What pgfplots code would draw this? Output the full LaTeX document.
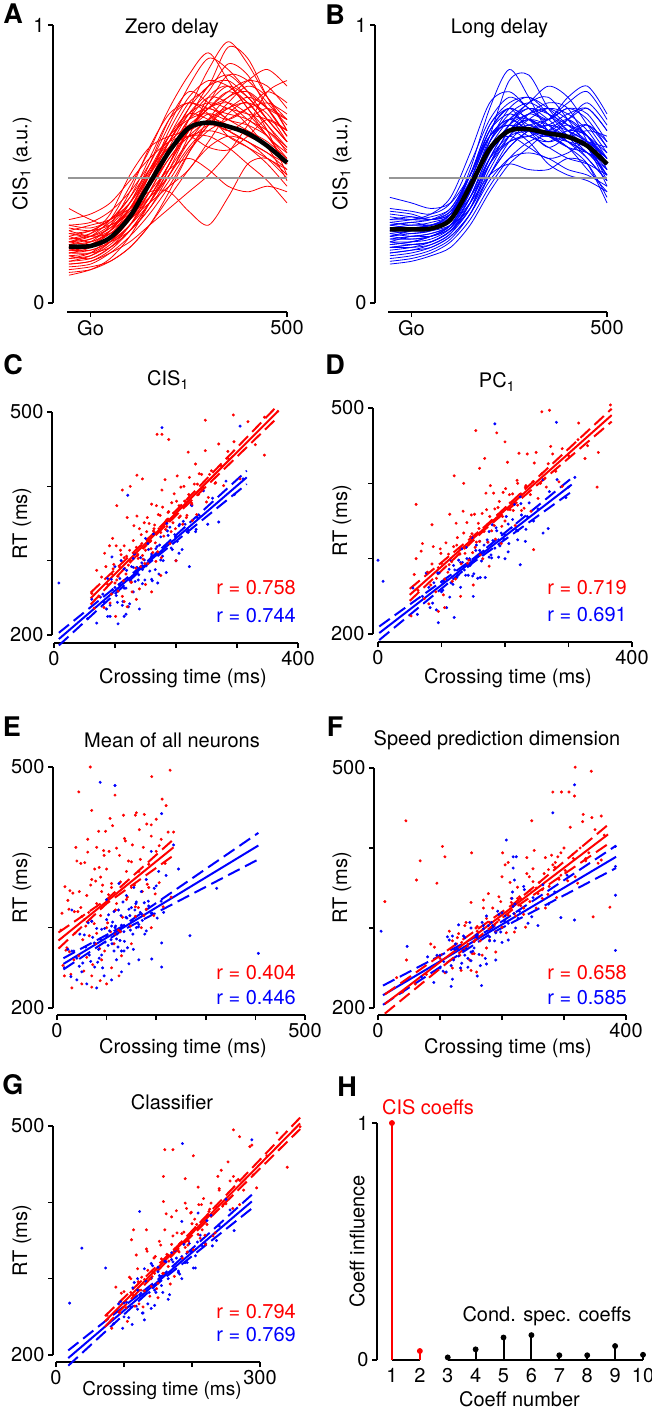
\documentclass[border=0pt]{standalone}
\usepackage{fontspec}
\setmainfont{TeX Gyre Heros}
\usepackage{pgfplots}
\pgfplotsset{compat=1.18}
\definecolor{cr}{RGB}{255,0,0}
\definecolor{cb}{RGB}{0,0,255}
\definecolor{cg}{RGB}{150,150,150}
\newcommand{\fs}{\fontsize{20}{24}\selectfont}
\pgfplotsset{
  base/.style={scale only axis, clip=false, anchor=south west,
    axis lines=left,
    axis line style={-, line width=1.5pt, black},
    tick align=outside, major tick length=5pt,
    tick style={line width=1.5pt, black},
    font=\fs, tick label style={font=\fs},
    /pgf/number format/assume math mode=true,
    every axis title/.style={at={(axis description cs:0.5,1)}, anchor=center, font=\fs},
    every axis x label/.style={at={(axis description cs:0.5,0)}, anchor=center, font=\fs},
    every axis y label/.style={at={(axis description cs:0,0.5)}, anchor=center, font=\fs},
  },
  rc/.style={cr, line width=0.8pt, smooth},
  bc/.style={cb, line width=0.8pt, smooth},
  rdot/.style={color=cr, only marks, mark=*, mark size=1.3pt, mark options={draw=none, fill=cr}},
  bdot/.style={color=cb, only marks, mark=*, mark size=1.3pt, mark options={draw=none, fill=cb}},
  rfit/.style={cr, line width=2pt},
  bfit/.style={cb, line width=2pt},
  rci/.style={cr, line width=2pt, dash pattern=on 13pt off 6pt},
  bci/.style={cb, line width=2pt, dash pattern=on 13pt off 6pt},
}
\begin{document}
\begin{tikzpicture}
\useasboundingbox (0pt,0pt) rectangle (652pt,-1410pt);
% ---------------- A ----------------
\begin{axis}[base, at={(67pt,-303pt)}, width=220pt, height=278pt,
 xmin=-60, xmax=500, ymin=0, ymax=1,
 axis x line shift=9pt, axis y line shift=14pt,
 xtick={0,500}, xticklabels={Go,500}, ytick={0,1}, yticklabels={0,1},
 title={Zero delay}, title style={xshift=-5pt, yshift=-3pt},
 ylabel={CIS\textsubscript{1} (a.u.)}, ylabel style={xshift=-45pt, rotate=90}]
\addplot[rc] coordinates {(-55,.22)(0,.24)(50,.30)(100,.42)(150,.55)(200,.70)(250,.82)(300,.90)(350,.80)(400,.70)(450,.62)(500,.55)};
\addplot[rc] coordinates {(-55,.18)(0,.19)(50,.22)(100,.28)(150,.38)(200,.50)(250,.62)(300,.72)(350,.78)(400,.74)(450,.66)(500,.58)};
\addplot[rc] coordinates {(-55,.25)(0,.26)(50,.30)(100,.36)(150,.47)(200,.60)(250,.72)(300,.78)(350,.92)(400,.88)(450,.74)(500,.62)};
\addplot[rc] coordinates {(-55,.15)(0,.16)(50,.20)(100,.26)(150,.34)(200,.44)(250,.55)(300,.62)(350,.66)(400,.70)(450,.72)(500,.68)};
\addplot[rc] coordinates {(-55,.30)(0,.32)(50,.36)(100,.44)(150,.52)(200,.58)(250,.60)(300,.56)(350,.55)(400,.60)(450,.66)(500,.62)};
\addplot[rc] coordinates {(-55,.12)(0,.13)(50,.15)(100,.20)(150,.28)(200,.38)(250,.48)(300,.56)(350,.60)(400,.58)(450,.52)(500,.45)};
\addplot[rc] coordinates {(-55,.20)(0,.20)(50,.24)(100,.32)(150,.46)(200,.62)(250,.74)(300,.80)(350,.78)(400,.72)(450,.64)(500,.54)};
\addplot[rc] coordinates {(-55,.34)(0,.30)(50,.28)(100,.34)(150,.48)(200,.60)(250,.66)(300,.68)(350,.62)(400,.58)(450,.54)(500,.48)};
\addplot[rc] coordinates {(-55,.17)(0,.18)(50,.22)(100,.30)(150,.40)(200,.48)(250,.52)(300,.48)(350,.42)(400,.40)(450,.42)(500,.40)};
\addplot[rc] coordinates {(-55,.24)(0,.22)(50,.26)(100,.34)(150,.44)(200,.58)(250,.70)(300,.84)(350,.94)(400,.86)(450,.74)(500,.66)};
\addplot[rc] coordinates {(-55,.10)(0,.12)(50,.16)(100,.24)(150,.36)(200,.50)(250,.62)(300,.70)(350,.72)(400,.68)(450,.60)(500,.50)};
\addplot[rc] coordinates {(-55,.22)(0,.25)(50,.32)(100,.46)(150,.56)(200,.60)(250,.62)(300,.66)(350,.70)(400,.74)(450,.70)(500,.60)};
\addplot[rc] coordinates {(-55,.19)(0,.20)(50,.24)(100,.30)(150,.36)(200,.42)(250,.48)(300,.58)(350,.68)(400,.72)(450,.62)(500,.46)};
\addplot[rc] coordinates {(-55,.26)(0,.28)(50,.30)(100,.34)(150,.40)(200,.40)(250,.33)(300,.28)(350,.38)(400,.50)(450,.52)(500,.46)};
\addplot[rc] coordinates {(-55,.14)(0,.15)(50,.18)(100,.22)(150,.28)(200,.34)(250,.40)(300,.46)(350,.54)(400,.64)(450,.76)(500,.80)};
\addplot[rc] coordinates {(-55,.28)(0,.29)(50,.33)(100,.40)(150,.50)(200,.64)(250,.78)(300,.88)(350,.84)(400,.76)(450,.66)(500,.58)};
\addplot[rc] coordinates {(-55,.16)(0,.18)(50,.24)(100,.34)(150,.46)(200,.56)(250,.60)(300,.62)(350,.60)(400,.56)(450,.50)(500,.42)};
\addplot[rc] coordinates {(-55,.21)(0,.22)(50,.25)(100,.30)(150,.38)(200,.50)(250,.66)(300,.78)(350,.82)(400,.76)(450,.70)(500,.66)};
\addplot[rc] coordinates {(-55,.23)(0,.24)(50,.28)(100,.36)(150,.50)(200,.66)(250,.76)(300,.72)(350,.66)(400,.64)(450,.60)(500,.52)};
\addplot[rc] coordinates {(-55,.18)(0,.18)(50,.20)(100,.26)(150,.36)(200,.46)(250,.56)(300,.64)(350,.72)(400,.78)(450,.74)(500,.62)};
\addplot[rc] coordinates {(-55,.20)(0,.22)(50,.28)(100,.40)(150,.56)(200,.68)(250,.72)(300,.70)(350,.68)(400,.66)(450,.60)(500,.50)};
\addplot[rc] coordinates {(-55,.13)(0,.14)(50,.18)(100,.24)(150,.32)(200,.42)(250,.54)(300,.64)(350,.70)(400,.72)(450,.68)(500,.58)};
\addplot[rc] coordinates {(-55,.27)(0,.26)(50,.28)(100,.32)(150,.38)(200,.46)(250,.60)(300,.74)(350,.78)(400,.70)(450,.60)(500,.54)};
\addplot[rc] coordinates {(-55,.22)(0,.21)(50,.22)(100,.26)(150,.34)(200,.46)(250,.58)(300,.66)(350,.64)(400,.60)(450,.56)(500,.44)};
\addplot[rc] coordinates {(-55,.15)(0,.17)(50,.22)(100,.30)(150,.42)(200,.56)(250,.68)(300,.76)(350,.86)(400,.82)(450,.70)(500,.60)};
\addplot[rc] coordinates {(-55,.24)(0,.26)(50,.30)(100,.38)(150,.48)(200,.56)(250,.60)(300,.60)(350,.56)(400,.50)(450,.44)(500,.36)};
\addplot[rc] coordinates {(-55,.19)(0,.19)(50,.22)(100,.28)(150,.36)(200,.48)(250,.62)(300,.70)(350,.74)(400,.80)(450,.84)(500,.78)};
\addplot[rc] coordinates {(-55,.21)(0,.23)(50,.26)(100,.32)(150,.42)(200,.54)(250,.66)(300,.74)(350,.72)(400,.66)(450,.62)(500,.56)};
\addplot[rc] coordinates {(-55,.17)(0,.16)(50,.20)(100,.28)(150,.40)(200,.52)(250,.60)(300,.66)(350,.70)(400,.64)(450,.56)(500,.50)};
\addplot[rc] coordinates {(-55,.25)(0,.24)(50,.27)(100,.33)(150,.44)(200,.54)(250,.62)(300,.68)(350,.66)(400,.70)(450,.76)(500,.72)};
\addplot[rc] coordinates {(-55,.16)(0,.17)(50,.21)(100,.28)(150,.38)(200,.50)(250,.62)(300,.70)(350,.76)(400,.72)(450,.64)(500,.56)};
\addplot[rc] coordinates {(-55,.23)(0,.25)(50,.29)(100,.36)(150,.46)(200,.58)(250,.68)(300,.72)(350,.70)(400,.68)(450,.66)(500,.62)};
\addplot[rc] coordinates {(-55,.11)(0,.12)(50,.15)(100,.20)(150,.28)(200,.40)(250,.54)(300,.66)(350,.74)(400,.76)(450,.70)(500,.60)};
\addplot[rc] coordinates {(-55,.28)(0,.27)(50,.30)(100,.38)(150,.52)(200,.66)(250,.72)(300,.68)(350,.60)(400,.56)(450,.52)(500,.48)};
\addplot[rc] coordinates {(-55,.20)(0,.21)(50,.25)(100,.32)(150,.44)(200,.58)(250,.70)(300,.78)(350,.80)(400,.74)(450,.66)(500,.58)};
\addplot[rc] coordinates {(-55,.18)(0,.20)(50,.26)(100,.36)(150,.48)(200,.58)(250,.64)(300,.70)(350,.76)(400,.80)(450,.78)(500,.70)};
\addplot[rc] coordinates {(-55,.26)(0,.24)(50,.25)(100,.30)(150,.40)(200,.54)(250,.66)(300,.70)(350,.66)(400,.62)(450,.58)(500,.52)};
\addplot[rc] coordinates {(-55,.14)(0,.15)(50,.19)(100,.26)(150,.36)(200,.48)(250,.58)(300,.64)(350,.62)(400,.58)(450,.54)(500,.50)};
\addplot[rc] coordinates {(-55,.22)(0,.23)(50,.27)(100,.34)(150,.42)(200,.52)(250,.62)(300,.72)(350,.82)(400,.80)(450,.72)(500,.64)};
\addplot[rc] coordinates {(-55,.19)(0,.21)(50,.26)(100,.34)(150,.46)(200,.60)(250,.68)(300,.66)(350,.62)(400,.66)(450,.70)(500,.66)};
\addplot[cg, line width=2pt] coordinates {(-58,.45)(500,.45)};
\addplot[black, line width=4.5pt, smooth] coordinates {(-55,.203)(0,.205)(50,.235)(100,.31)(150,.43)(200,.545)(250,.63)(300,.649)(350,.635)(400,.61)(450,.565)(500,.505)};
\end{axis}
% ---------------- B ----------------
\begin{axis}[base, at={(388pt,-303pt)}, width=219pt, height=278pt,
 xmin=-60, xmax=500, ymin=0, ymax=1,
 axis x line shift=9pt, axis y line shift=13pt,
 xtick={0,500}, xticklabels={Go,500}, ytick={0,1}, yticklabels={0,1},
 title={Long delay}, title style={xshift=2pt, yshift=-3pt},
 ylabel={CIS\textsubscript{1} (a.u.)}, ylabel style={xshift=-46pt, rotate=90}]
\addplot[bc] coordinates {(-55,.26)(0,.27)(50,.28)(100,.32)(150,.48)(200,.70)(250,.84)(300,.74)(350,.62)(400,.64)(450,.60)(500,.50)};
\addplot[bc] coordinates {(-55,.20)(0,.21)(50,.22)(100,.26)(150,.36)(200,.50)(250,.60)(300,.66)(350,.70)(400,.68)(450,.62)(500,.52)};
\addplot[bc] coordinates {(-55,.30)(0,.30)(50,.31)(100,.34)(150,.46)(200,.62)(250,.68)(300,.64)(350,.62)(400,.66)(450,.70)(500,.62)};
\addplot[bc] coordinates {(-55,.15)(0,.16)(50,.18)(100,.22)(150,.30)(200,.42)(250,.52)(300,.58)(350,.60)(400,.56)(450,.48)(500,.40)};
\addplot[bc] coordinates {(-55,.34)(0,.33)(50,.32)(100,.36)(150,.50)(200,.66)(250,.74)(300,.70)(350,.64)(400,.58)(450,.52)(500,.44)};
\addplot[bc] coordinates {(-55,.22)(0,.24)(50,.24)(100,.27)(150,.36)(200,.52)(250,.64)(300,.70)(350,.66)(400,.60)(450,.58)(500,.56)};
\addplot[bc] coordinates {(-55,.28)(0,.27)(50,.27)(100,.30)(150,.40)(200,.56)(250,.66)(300,.72)(350,.78)(400,.74)(450,.64)(500,.54)};
\addplot[bc] coordinates {(-55,.18)(0,.19)(50,.20)(100,.24)(150,.32)(200,.44)(250,.52)(300,.54)(350,.52)(400,.48)(450,.46)(500,.42)};
\addplot[bc] coordinates {(-55,.38)(0,.36)(50,.34)(100,.36)(150,.46)(200,.60)(250,.64)(300,.60)(350,.58)(400,.62)(450,.60)(500,.50)};
\addplot[bc] coordinates {(-55,.24)(0,.25)(50,.26)(100,.30)(150,.42)(200,.60)(250,.80)(300,.82)(350,.70)(400,.62)(450,.56)(500,.48)};
\addplot[bc] coordinates {(-55,.27)(0,.26)(50,.26)(100,.28)(150,.34)(200,.46)(250,.56)(300,.62)(350,.66)(400,.72)(450,.76)(500,.66)};
\addplot[bc] coordinates {(-55,.21)(0,.22)(50,.24)(100,.28)(150,.40)(200,.56)(250,.62)(300,.58)(350,.50)(400,.46)(450,.44)(500,.40)};
\addplot[bc] coordinates {(-55,.32)(0,.31)(50,.30)(100,.32)(150,.42)(200,.58)(250,.66)(300,.66)(350,.62)(400,.58)(450,.54)(500,.50)};
\addplot[bc] coordinates {(-55,.25)(0,.24)(50,.25)(100,.28)(150,.36)(200,.46)(250,.50)(300,.48)(350,.48)(400,.52)(450,.50)(500,.38)};
\addplot[bc] coordinates {(-55,.14)(0,.15)(50,.17)(100,.20)(150,.28)(200,.40)(250,.50)(300,.56)(350,.62)(400,.66)(450,.60)(500,.48)};
\addplot[bc] coordinates {(-55,.29)(0,.30)(50,.32)(100,.38)(150,.54)(200,.72)(250,.76)(300,.70)(350,.66)(400,.70)(450,.66)(500,.56)};
\addplot[bc] coordinates {(-55,.23)(0,.23)(50,.24)(100,.27)(150,.38)(200,.54)(250,.62)(300,.66)(350,.64)(400,.60)(450,.62)(500,.60)};
\addplot[bc] coordinates {(-55,.26)(0,.25)(50,.26)(100,.30)(150,.44)(200,.62)(250,.70)(300,.62)(350,.56)(400,.60)(450,.64)(500,.58)};
\addplot[bc] coordinates {(-55,.19)(0,.20)(50,.22)(100,.26)(150,.34)(200,.48)(250,.60)(300,.68)(350,.72)(400,.70)(450,.58)(500,.44)};
\addplot[bc] coordinates {(-55,.31)(0,.30)(50,.30)(100,.33)(150,.44)(200,.60)(250,.66)(300,.62)(350,.60)(400,.66)(450,.72)(500,.64)};
\addplot[bc] coordinates {(-55,.24)(0,.26)(50,.28)(100,.30)(150,.38)(200,.50)(250,.58)(300,.60)(350,.56)(400,.52)(450,.50)(500,.46)};
\addplot[bc] coordinates {(-55,.28)(0,.29)(50,.28)(100,.31)(150,.46)(200,.64)(250,.72)(300,.74)(350,.70)(400,.64)(450,.58)(500,.50)};
\addplot[bc] coordinates {(-55,.22)(0,.21)(50,.22)(100,.26)(150,.34)(200,.50)(250,.62)(300,.68)(350,.66)(400,.74)(450,.78)(500,.68)};
\addplot[bc] coordinates {(-55,.27)(0,.28)(50,.28)(100,.30)(150,.40)(200,.56)(250,.60)(300,.56)(350,.52)(400,.54)(450,.58)(500,.52)};
\addplot[bc] coordinates {(-55,.20)(0,.20)(50,.21)(100,.25)(150,.36)(200,.52)(250,.64)(300,.72)(350,.74)(400,.66)(450,.56)(500,.46)};
\addplot[bc] coordinates {(-55,.33)(0,.32)(50,.30)(100,.32)(150,.42)(200,.56)(250,.62)(300,.62)(350,.60)(400,.56)(450,.50)(500,.36)};
\addplot[bc] coordinates {(-55,.17)(0,.18)(50,.20)(100,.24)(150,.32)(200,.46)(250,.58)(300,.64)(350,.60)(400,.56)(450,.54)(500,.50)};
\addplot[bc] coordinates {(-55,.25)(0,.26)(50,.27)(100,.30)(150,.42)(200,.58)(250,.66)(300,.70)(350,.68)(400,.64)(450,.60)(500,.54)};
\addplot[bc] coordinates {(-55,.29)(0,.28)(50,.29)(100,.32)(150,.46)(200,.62)(250,.70)(300,.66)(350,.62)(400,.60)(450,.56)(500,.42)};
\addplot[bc] coordinates {(-55,.21)(0,.22)(50,.24)(100,.28)(150,.38)(200,.52)(250,.58)(300,.60)(350,.62)(400,.60)(450,.54)(500,.48)};
\addplot[bc] coordinates {(-55,.23)(0,.24)(50,.25)(100,.28)(150,.40)(200,.58)(250,.68)(300,.72)(350,.68)(400,.62)(450,.58)(500,.52)};
\addplot[bc] coordinates {(-55,.27)(0,.27)(50,.28)(100,.31)(150,.42)(200,.56)(250,.62)(300,.64)(350,.66)(400,.70)(450,.68)(500,.58)};
\addplot[bc] coordinates {(-55,.18)(0,.19)(50,.21)(100,.25)(150,.34)(200,.50)(250,.62)(300,.66)(350,.62)(400,.58)(450,.54)(500,.46)};
\addplot[bc] coordinates {(-55,.30)(0,.31)(50,.30)(100,.33)(150,.46)(200,.64)(250,.70)(300,.66)(350,.60)(400,.62)(450,.64)(500,.56)};
\addplot[bc] coordinates {(-55,.22)(0,.22)(50,.23)(100,.27)(150,.38)(200,.54)(250,.64)(300,.68)(350,.70)(400,.66)(450,.60)(500,.52)};
\addplot[bc] coordinates {(-55,.26)(0,.27)(50,.28)(100,.32)(150,.44)(200,.60)(250,.66)(300,.62)(350,.58)(400,.60)(450,.56)(500,.46)};
\addplot[bc] coordinates {(-55,.20)(0,.21)(50,.22)(100,.26)(150,.36)(200,.52)(250,.60)(300,.62)(350,.64)(400,.68)(450,.70)(500,.62)};
\addplot[bc] coordinates {(-55,.24)(0,.23)(50,.24)(100,.28)(150,.40)(200,.58)(250,.70)(300,.74)(350,.68)(400,.60)(450,.52)(500,.44)};
\addplot[bc] coordinates {(-55,.28)(0,.29)(50,.30)(100,.34)(150,.46)(200,.60)(250,.64)(300,.62)(350,.60)(400,.58)(450,.56)(500,.50)};
\addplot[bc] coordinates {(-55,.16)(0,.17)(50,.19)(100,.23)(150,.32)(200,.46)(250,.56)(300,.62)(350,.64)(400,.62)(450,.58)(500,.52)};
\addplot[cg, line width=2pt] coordinates {(-58,.45)(500,.45)};
\addplot[black, line width=4.5pt, smooth] coordinates {(-55,.265)(0,.265)(50,.268)(100,.30)(150,.42)(200,.555)(250,.62)(300,.625)(350,.61)(400,.598)(450,.565)(500,.50)};
\end{axis}
% ---------------- C ----------------
\begin{axis}[base, at={(54pt,-635pt)}, width=244pt, height=223pt,
 xmin=0, xmax=400, ymin=200, ymax=500,
 axis x line shift=8pt, axis y line shift=2pt,
 xtick={0,100,200,300,400}, xticklabels={0,,,,400},
 ytick={200,300,400,500}, yticklabels={200,,,500},
 title={CIS\textsubscript{1}}, title style={xshift=-8pt, yshift=32pt},
 xlabel={Crossing time (ms)}, xlabel style={xshift=7pt, yshift=-43pt},
 ylabel={RT (ms)}, ylabel style={xshift=-32pt, rotate=90}]
\addplot[bdot] coordinates {(55,222)(62,248)(70,216)(76,251)(82,244)(88,276)(92,240)(96,261)(100,292)(104,244)(108,276)(112,240)(115,289)(118,263)(121,276)(124,242)(127,292)(130,303)(133,272)(136,291)(139,281)(142,304)(145,269)(148,301)(151,293)(154,323)(157,286)(160,306)(163,336)(166,288)(169,319)(172,282)(175,332)(178,306)(181,319)(184,284)(187,334)(190,345)(194,315)(198,335)(202,326)(206,349)(210,315)(215,349)(220,341)(226,374)(232,339)(238,361)(245,394)(252,349)(260,384)(270,352)(282,407)(296,389)(310,410)
(177,479)(305,481)(8,270)(121,388)(222,292)(95,305)(150,330)(88,225)(105,215)(130,258)(170,270)(140,235)(118,228)(200,300)(160,275)(185,350)(110,300)
(100,264)(115,263)(130,291)(145,288)(160,309)(175,301)(190,324)(205,347)(220,338)(235,358)(92,225)(115,225)(122,238)
(80,255)(86,235)(94,275)(102,253)(107,268)(113,245)(119,287)(126,274)(132,309)(138,274)(144,297)(149,274)(155,315)(161,273)(167,316)(173,321)(179,300)(186,340)(192,317)(199,332)(205,310)(212,353)(218,339)(225,375)(233,342)};
\addplot[rdot] coordinates {(62,256)(66,236)(70,287)(74,252)(78,278)(82,237)(85,292)(88,268)(91,320)(94,255)(97,289)(100,270)(102,320)(105,259)(108,291)(110,308)(112,252)(115,320)(118,282)(120,358)(122,294)(124,314)(127,271)(130,327)(132,311)(134,290)(136,360)(138,303)(140,343)(142,292)(144,323)(146,302)(148,351)(150,314)(152,339)(154,296)(156,350)(158,326)(160,376)(162,311)(164,343)(166,324)(168,374)(170,312)(172,343)(174,361)(176,304)(178,372)(180,333)(182,409)(185,346)(188,366)(190,323)(193,378)(196,364)(199,343)(202,414)(205,358)(208,399)(211,349)(214,380)(218,361)(222,412)(226,376)(230,403)(234,362)(238,417)(243,395)(248,448)(253,385)(258,421)(264,404)(270,457)(278,401)(286,437)(295,460)(305,410)(318,487)(330,456)(345,493)
(169,470)(177,470)(188,463)(248,489)(294,496)(367,501)(345,442)(136,415)(220,446)(103,374)(112,395)(125,400)(145,410)(96,330)(83,310)(150,268)(160,258)(175,280)(200,300)(128,258)(115,245)(140,262)(101,225)(92,243)(120,238)(135,248)
(95,282)(105,279)(115,304)(125,300)(135,318)(145,307)(155,328)(165,348)(175,338)(185,355)(195,351)(205,374)(215,380)(225,378)(235,403)(245,398)(255,416)(265,405)(275,427)(285,447)
(98,295)(103,274)(109,314)(114,273)(119,306)(126,271)(131,347)(137,307)(143,335)(149,296)(153,358)(159,316)(163,340)(167,299)(171,362)(177,395)(183,342)(187,365)(192,339)(197,390)(201,380)(207,360)(213,400)(217,358)(221,389)(227,354)(232,430)(237,389)(242,416)(250,379)};
\addplot[bfit] coordinates {(8,194.6)(316,412.1)};
\addplot[bci] coordinates {(8,203)(150,297)(316,421)};
\addplot[bci] coordinates {(8,186)(150,293)(316,403)};
\addplot[rfit] coordinates {(60,249.2)(367,500.9)};
\addplot[rci] coordinates {(60,257)(170,342)(367,509)};
\addplot[rci] coordinates {(60,241)(170,337)(367,493)};
\end{axis}
% ---------------- D ----------------
\begin{axis}[base, at={(378pt,-634pt)}, width=254pt, height=226pt,
 xmin=0, xmax=400, ymin=200, ymax=500,
 axis x line shift=8pt, axis y line shift=5pt,
 xtick={0,100,200,300,400}, xticklabels={0,,,,400},
 ytick={200,300,400,500}, yticklabels={200,,,500},
 title={PC\textsubscript{1}}, title style={xshift=-8pt, yshift=26pt},
 xlabel={Crossing time (ms)}, xlabel style={xshift=3pt, yshift=-44pt},
 ylabel={RT (ms)}, ylabel style={xshift=-36pt, rotate=90}]
\addplot[bdot] coordinates {(55,261)(62,226)(70,250)(76,281)(82,235)(88,268)(92,232)(96,281)(100,256)(104,270)(108,235)(112,286)(115,297)(118,266)(121,285)(124,275)(127,298)(130,262)(133,295)(136,285)(139,315)(142,278)(145,298)(148,328)(151,280)(154,311)(157,274)(160,323)(163,297)(166,310)(169,275)(172,325)(175,336)(178,305)(181,324)(184,314)(187,337)(190,302)(194,334)(198,326)(202,356)(206,320)(210,341)(215,372)(220,325)(226,358)(232,323)(238,374)(245,350)(252,366)(260,334)(270,389)(282,405)(296,381)(310,408)
(184,479)(281,481)(0,298)(8,270)(224,292)(268,340)(224,382)(95,215)(120,222)(150,250)(200,300)(180,345)(140,300)(260,405)(300,395)
(100,269)(115,268)(130,295)(145,291)(160,311)(175,302)(190,325)(205,346)(220,337)(235,356)
(80,262)(86,241)(94,281)(102,258)(107,273)(113,249)(119,291)(126,278)(132,313)(138,278)(144,300)(149,277)(155,318)(161,275)(167,318)(173,322)(179,301)(186,341)(192,317)(199,332)(205,309)(212,352)(218,338)(225,373)(233,339)};
\addplot[rdot] coordinates {(52,224)(57,279)(63,258)(68,310)(73,247)(78,282)(83,265)(87,316)(91,256)(95,288)(99,307)(103,252)(107,321)(110,282)(113,359)(116,296)(119,316)(122,273)(125,328)(128,314)(131,293)(134,363)(137,307)(140,348)(143,298)(146,329)(149,308)(152,359)(155,322)(158,347)(161,305)(164,360)(167,336)(170,387)(173,322)(176,356)(179,337)(182,387)(185,326)(188,358)(191,376)(194,320)(197,388)(200,350)(204,428)(208,365)(212,386)(216,344)(220,400)(225,386)(230,367)(235,439)(240,385)(246,427)(252,380)(258,413)(265,395)(272,449)(280,416)(290,446)
(100,294)(112,292)(124,318)(136,314)(148,333)(160,323)(172,345)(184,366)(196,356)(208,374)(220,371)(232,395)(244,402)(256,400)(268,426)(300,437)(315,458)(330,450)
(154,470)(187,467)(258,495)(270,497)(366,504)(316,480)(347,441)(326,433)(60,372)(168,433)(245,312)(135,400)(120,410)(160,420)(200,455)(222,440)(80,240)(105,235)(130,250)(150,265)(175,290)(95,230)(60,300)(70,320)(85,345)(345,395)(290,396)
(85,293)(92,274)(98,313)(105,273)(111,306)(117,270)(123,347)(129,306)(135,334)(141,294)(147,358)(153,315)(159,340)(165,300)(171,365)(177,397)(183,344)(189,368)(195,343)(201,393)(207,385)(213,364)(219,404)(226,364)(233,397)(241,363)(249,441)(262,406)(275,439)(285,402)};
\addplot[bfit] coordinates {(2,201.3)(305,398.3)};
\addplot[bci] coordinates {(2,210)(150,300)(305,407)};
\addplot[bci] coordinates {(2,192)(150,295)(305,389)};
\addplot[rfit] coordinates {(50,252)(368,490.5)};
\addplot[rci] coordinates {(50,260)(170,344)(368,499)};
\addplot[rci] coordinates {(50,244)(170,340)(368,482)};
\end{axis}
% ---------------- E ----------------
\begin{axis}[base, at={(57pt,-1008pt)}, width=248pt, height=241pt,
 xmin=0, xmax=500, ymin=200, ymax=500,
 axis x line shift=7pt, axis y line shift=4pt,
 xtick={0,100,200,300,400,500}, xticklabels={0,,,,,500},
 ytick={200,300,400,500}, yticklabels={200,,,500},
 title={Mean of all neurons}, title style={xshift=-9pt, yshift=27pt},
 xlabel={Crossing time (ms)}, xlabel style={xshift=2pt, yshift=-40pt},
 ylabel={RT (ms)}, ylabel style={xshift=-35pt, rotate=90}]
\addplot[rdot] coordinates {(8,297)(12,253)(16,351)(20,275)(24,323)(28,242)(32,343)(36,293)(40,383)(44,265)(48,325)(52,285)(56,381)(60,263)(64,319)(68,353)(72,254)(76,373)(80,293)(84,420)(88,315)(92,353)(96,271)(100,373)(104,341)(108,295)(112,427)(116,321)(120,399)(124,297)(128,357)(132,313)(136,411)(140,335)(144,383)(148,302)(152,403)(156,353)(160,443)(164,325)(168,385)(172,345)(176,441)(180,323)(185,379)(190,414)(195,315)(200,435)(206,356)(212,460)(218,380)(224,419)(230,338)(22,334)(50,314)(78,280)(98,420)(118,322)(138,408)(158,314)
(60,340)(70,360)(80,330)(90,345)(100,300)(110,355)(75,305)(85,375)(95,390)(65,290)(55,310)(45,345)(35,320)(25,270)(15,240)(30,225)(50,230)(70,240)(90,260)(110,250)(130,265)(150,280)(170,300)(120,330)(140,370)(105,395)(62,410)(80,400)(48,380)(38,400)(150,350)(165,370)(185,350)(200,395)(210,410)(190,300)(175,315)(115,280)(125,240)(100,230)
(67,500)(228,496)(191,488)(44,469)(117,465)(70,446)(107,436)(158,440)(181,429)(235,419)(70,226)(87,234)
(10,318)(18,272)(26,346)(34,260)(42,320)(54,246)(62,394)(70,308)(78,358)(86,274)(94,396)(102,306)(110,350)(118,292)(126,390)(134,440)(142,338)(150,382)(158,326)(166,422)(174,400)(182,354)(190,428)(198,342)(206,402)(214,326)(220,452)(58,302)(88,363)(128,295)};
\addplot[bdot] coordinates {(15,250)(22,273)(28,239)(34,271)(40,262)(46,292)(52,256)(58,276)(63,306)(68,258)(72,288)(76,251)(80,299)(84,273)(88,285)(92,250)(96,299)(100,310)(103,278)(106,296)(109,285)(112,307)(115,271)(118,302)(121,292)(124,322)(127,284)(130,303)(133,332)(136,283)(139,313)(142,275)(145,323)(148,297)(151,309)(154,273)(157,322)(160,332)(164,301)(168,319)(172,309)(176,331)(180,296)(185,327)(190,318)(196,349)(202,312)(210,333)(70,308)(90,266)(110,302)(130,271)(150,325)(120,286)(100,290)
(60,230)(80,225)(95,240)(110,235)(130,245)(145,255)(165,260)(50,245)(40,235)(85,262)(120,260)(140,340)(155,350)(170,345)(125,355)(100,335)(180,360)(160,300)(135,295)(115,320)
(87,481)(117,477)(211,442)(235,403)(245,373)(268,290)(322,349)(406,268)(211,281)(211,251)(191,261)(30,322)(205,370)(220,365)(190,395)
(30,271)(45,252)(55,291)(65,266)(75,281)(82,257)(90,298)(97,282)(104,316)(111,280)(117,300)(123,276)(129,315)(135,271)(141,312)(147,315)(153,292)(159,330)(165,304)(171,317)(177,292)(184,333)(192,318)(200,352)(215,319)};
\addplot[bfit] coordinates {(13,254.9)(406,402.3)};
\addplot[bci] coordinates {(13,262)(130,301)(406,418)};
\addplot[bci] coordinates {(13,248)(130,296)(406,385)};
\addplot[rfit] coordinates {(3,284)(235,400)};
\addplot[rci] coordinates {(3,294)(100,335)(235,410)};
\addplot[rci] coordinates {(3,274)(100,330)(235,390)};
\end{axis}
% ---------------- F ----------------
\begin{axis}[base, at={(378pt,-1008pt)}, width=248pt, height=240pt,
 xmin=0, xmax=400, ymin=200, ymax=500,
 axis x line shift=7pt, axis y line shift=4pt,
 xtick={0,100,200,300,400}, xticklabels={0,,,,400},
 ytick={200,300,400,500}, yticklabels={200,,,500},
 title={Speed prediction dimension}, title style={xshift=-5pt, yshift=28pt},
 xlabel={Crossing time (ms)}, xlabel style={xshift=6pt, yshift=-40pt},
 ylabel={RT (ms)}, ylabel style={xshift=-36pt, rotate=90}]
\addplot[rdot] coordinates {(100,262)(108,244)(115,296)(122,261)(128,288)(134,247)(140,303)(145,280)(150,332)(155,268)(160,302)(165,284)(170,335)(175,275)(180,307)(185,325)(190,270)(195,339)(200,301)(205,379)(210,316)(215,337)(220,295)(225,351)(230,337)(235,317)(240,388)(245,333)(250,374)(255,325)(260,357)(265,337)(270,388)(276,352)(282,379)(288,338)(295,394)(302,372)(310,426)(318,364)(326,400)(335,384)(345,438)(355,381)(365,416)(130,293)(150,247)(170,325)(190,295)(210,382)(230,328)(250,358)(270,325)(290,389)(160,296)(180,285)(200,364)(220,318)(240,368)
(135,282)(155,283)(175,312)(195,310)(215,332)(235,325)(255,350)(275,373)(295,366)(315,387)(335,387)(225,337)(245,347)(265,348)(285,376)
(11,333)(45,434)(62,360)(68,384)(104,402)(108,389)(95,356)(151,394)(201,394)(318,501)(344,496)(282,470)(296,470)(308,470)(317,465)(248,434)(331,442)(360,440)(374,326)(347,314)(91,276)(78,242)(46,260)(85,280)(148,260)(159,245)(120,250)(60,230)(40,220)(30,238)
(120,284)(132,266)(142,307)(152,268)(158,300)(168,266)(178,343)(188,304)(198,333)(207,294)(213,357)(222,315)(228,339)(238,301)(244,364)(252,397)(258,343)(268,368)(274,342)(280,391)(286,382)(292,361)(300,400)(306,359)(314,392)(322,356)(330,433)(340,394)(350,423)(360,385)};
\addplot[bdot] coordinates {(70,239)(80,264)(90,232)(100,266)(106,258)(112,289)(118,253)(124,273)(130,304)(135,256)(140,288)(145,251)(150,300)(155,275)(160,288)(165,253)(170,303)(175,315)(180,284)(185,303)(190,294)(195,317)(200,282)(205,315)(210,306)(216,337)(222,300)(228,321)(235,352)(242,306)(250,338)(258,303)(266,354)(275,330)(285,345)(295,313)(305,366)(120,290)(140,266)(160,292)(180,289)(200,319)(150,259)(170,299)
(218,389)(218,375)(220,360)(217,345)(221,330)(219,318)
(130,265)(138,272)(145,262)(125,280)(150,270)(110,245)(100,250)(120,236)(160,240)(175,255)(190,260)
(5,296)(47,277)(223,389)(317,479)(317,310)(383,402)(383,377)(383,341)(383,272)(282,444)(207,410)(118,227)(167,228)
(95,266)(105,246)(115,285)(122,260)(128,274)(133,250)(138,290)(143,274)(148,307)(153,271)(158,291)(163,267)(168,307)(173,262)(178,303)(183,307)(188,284)(193,321)(198,295)(204,309)(210,285)(218,327)(226,312)(236,348)(248,314)};
\addplot[bfit] coordinates {(8,216)(384,389)};
\addplot[bci] coordinates {(8,228)(180,298)(384,403)};
\addplot[bci] coordinates {(8,204)(180,292)(384,375)};
\addplot[rfit] coordinates {(11,205)(371,417)};
\addplot[rci] coordinates {(11,217)(220,331)(371,429)};
\addplot[rci] coordinates {(11,193)(220,325)(371,405)};
\end{axis}
% ---------------- G ----------------
\begin{axis}[base, at={(56pt,-1355pt)}, width=204pt, height=229pt,
 xmin=0, xmax=300, ymin=200, ymax=500,
 axis x line shift=7pt, axis y line shift=3pt,
 xtick={0,100,200,300}, xticklabels={0,,,300},
 ytick={200,300,400,500}, yticklabels={200,,,500},
 title={Classifier}, title style={xshift=14pt, yshift=24pt},
 xlabel={Crossing time (ms)}, xlabel style={font=\fontsize{19}{22}\selectfont, xshift=4pt, yshift=-35pt},
 ylabel={RT (ms)}, ylabel style={xshift=-34pt, rotate=90}]
\addplot[bdot] coordinates {(85,241)(92,267)(98,235)(104,269)(110,263)(115,295)(120,260)(125,281)(130,313)(135,267)(140,300)(145,265)(150,315)(155,291)(160,306)(165,273)(170,325)(175,337)(180,308)(185,329)(190,321)(196,346)(202,314)(208,348)(215,343)(222,376)(230,343)(240,369)(250,404)(262,363)(120,285)(140,261)(160,323)(180,310)(200,336)(130,246)(150,309)(170,334)
(100,250)(95,270)(112,240)(128,255)(145,285)(165,300)(185,300)(205,330)(140,320)(120,300)
(186,477)(288,482)(38,340)(73,314)(20,268)(123,388)(185,375)(209,386)(256,390)
(100,268)(107,249)(113,288)(118,264)(123,279)(127,255)(132,297)(137,282)(142,317)(147,282)(152,304)(157,282)(162,322)(167,279)(172,322)(177,327)(182,306)(188,345)(193,321)(198,336)(205,314)(212,357)(220,346)(228,383)(236,350)};
\addplot[rdot] coordinates {(75,252)(82,235)(88,289)(94,255)(100,283)(105,244)(110,300)(114,278)(118,331)(122,267)(126,302)(130,284)(134,336)(138,277)(142,309)(146,329)(150,275)(154,344)(158,307)(162,385)(166,323)(170,345)(174,303)(178,360)(182,346)(186,327)(190,399)(194,344)(198,386)(202,338)(207,371)(212,353)(217,405)(222,371)(228,399)(234,360)(240,418)(246,397)(253,453)(260,392)(268,430)(276,416)(285,473)(295,419)(310,461)(325,491)(340,446)(120,313)(140,290)(160,364)(180,336)(200,372)(220,345)(240,416)(130,299)(150,294)(170,381)(190,341)(210,397)
(110,282)(125,285)(135,311)(145,307)(155,326)(165,316)(175,338)(185,359)(195,349)(205,367)(215,364)(225,388)(235,395)(250,398)(265,428)
(160,469)(172,469)(202,461)(261,495)(270,486)(288,475)(190,431)(209,420)(243,442)(261,434)(192,392)(158,401)(158,434)(133,364)(114,364)(111,351)(290,436)(359,499)
(96,281)(103,262)(108,302)(116,264)(121,296)(128,263)(133,339)(139,300)(144,327)(148,287)(152,349)(157,307)(163,332)(168,293)(172,356)(177,389)(181,335)(188,361)(193,335)(199,387)(204,378)(209,358)(214,397)(219,357)(226,391)(231,356)(238,434)(245,395)(256,428)(270,397)};
\addplot[bfit] coordinates {(18,196)(288,401.2)};
\addplot[bci] coordinates {(18,206)(150,299)(288,410)};
\addplot[bci] coordinates {(18,186)(150,294)(288,392)};
\addplot[rfit] coordinates {(72,244)(359,503.4)};
\addplot[rci] coordinates {(72,251)(180,344)(359,511)};
\addplot[rci] coordinates {(72,237)(180,339)(359,496)};
\end{axis}
% ---------------- H ----------------
\begin{axis}[base, at={(378pt,-1360pt)}, width=265pt, height=237pt,
 xmin=0.5, xmax=10, ymin=0, ymax=1,
 axis y line shift=1pt, x axis line style={draw=none},
 xtick={1,2,3,4,5,6,7,8,9,10}, xtick style={draw=none},
 ytick={0,1}, yticklabels={0,1},
 xlabel={Coeff number}, xlabel style={xshift=9pt, yshift=-39pt},
 ylabel={Coeff influence}, ylabel style={xshift=-21pt, rotate=90}]
\addplot[black, line width=1.5pt] coordinates {(1,0)(2,0)};
\addplot[black, line width=1.5pt] coordinates {(3,0)(10,0)};
\addplot[cr, line width=2pt, ycomb, mark=*, mark size=2.4pt, mark options={fill=cr, line width=1pt}] coordinates {(1,1)(2,0.038)};
\addplot[black, line width=2pt, ycomb, mark=*, mark size=2.4pt, mark options={fill=black, line width=1pt}] coordinates {(3,0.011)(4,0.045)(5,0.095)(6,0.105)(7,0.02)(8,0.02)(9,0.059)(10,0.022)};
\end{axis}
% ---------------- annotations ----------------
\begin{scope}[every node/.style={font=\fontsize{27}{30}\selectfont\bfseries}]
\node at (13pt,-14pt) {A};
\node at (335pt,-15pt) {B};
\node at (13pt,-365pt) {C};
\node at (335pt,-365pt) {D};
\node at (12pt,-727pt) {E};
\node at (335pt,-727pt) {F};
\node at (13pt,-1085pt) {G};
\node at (347pt,-1087pt) {H};
\end{scope}
\begin{scope}[every node/.style={font=\fs, anchor=east, inner sep=0pt}]
\node[text=cr] at (296pt,-588pt) {r = 0.758};
\node[text=cb] at (296pt,-616pt) {r = 0.744};
\node[text=cr] at (627pt,-588pt) {r = 0.719};
\node[text=cb] at (627pt,-615pt) {r = 0.691};
\node[text=cr] at (296pt,-973pt) {r = 0.404};
\node[text=cb] at (296pt,-998pt) {r = 0.446};
\node[text=cr] at (627pt,-973pt) {r = 0.658};
\node[text=cb] at (627pt,-998pt) {r = 0.585};
\node[text=cr] at (296pt,-1312pt) {r = 0.794};
\node[text=cb] at (296pt,-1335pt) {r = 0.769};
\end{scope}
\node[font=\fs, text=cr] at (428pt,-1107pt) {CIS coeffs};
\node[font=\fs] at (547pt,-1316pt) {Cond. spec. coeffs};
\end{tikzpicture}
\end{document}
